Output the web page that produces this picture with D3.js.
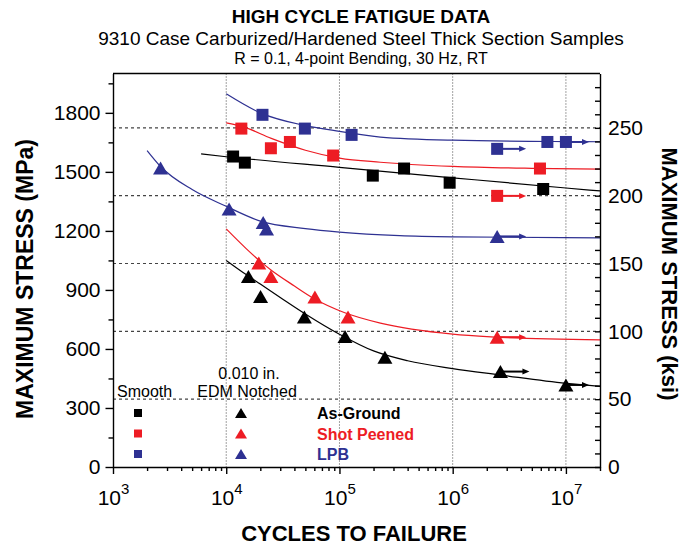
<!DOCTYPE html>
<html>
<head>
<meta charset="utf-8">
<script src="https://cdn.jsdelivr.net/npm/d3@7/dist/d3.min.js"></script>
<style>
  body { margin: 0; background: #fff; }
  svg { display: block; font-family: "Liberation Sans", Arial, Helvetica, sans-serif; }
</style>
</head>
<body>
<svg id="chart" width="694" height="546"></svg>
<script>
// data: [cycles, max stress (MPa), runout?]
var smoothGround = [[1.15e4,1578],[1.46e4,1547],[1.97e5,1481],[3.72e5,1517],[9.4e5,1445],[6.3e6,1413]];
var smoothPeened = [[1.36e4,1720],[2.48e4,1620],[3.65e4,1652],[8.8e4,1583],[2.47e6,1378,1],[5.9e6,1517]];
var smoothLPB    = [[2.09e4,1790],[4.95e4,1720],[1.28e5,1688],[2.47e6,1617,1],[6.86e6,1652],[1e7,1652,1]];
var notchGround  = [[1.57e4,968],[2.01e4,867],[4.9e4,762],[1.12e5,663],[2.52e5,558],[2.64e6,485,1],[1e7,417,1]];
var notchPeened  = [[1.94e4,1037],[2.48e4,968],[6.07e4,864],[1.19e5,762],[2.47e6,660,1]];
var notchLPB     = [[2.63e3,1520],[1.06e4,1311],[2.12e4,1243],[2.27e4,1210],[2.47e6,1172,1]];

// fitted curves
var fitSmoothGround = [[6e3,1591],[1e4,1577],[1e5,1523],[1e6,1470],[1e7,1418],[2e7,1403]];
var fitSmoothPeened = [[1e4,1749],[1.4e4,1730],[2.5e4,1670],[5e4,1610],[1e5,1570],[2.3e5,1549],[1e6,1528],[5e6,1518],[2e7,1514]];
var fitSmoothLPB    = [[1e4,1897],[2e4,1800],[5e4,1735],[1e5,1706],[2.3e5,1677],[1e6,1661],[1e7,1654],[2e7,1653]];
var fitNotchGround  = [[1e4,1050],[1.5e4,978],[2e4,930],[3e4,862],[5e4,778],[1e5,675],[2e5,590],[4e5,540],[1e6,500],[2.6e6,468],[1e7,425],[2e7,410]];
var fitNotchPeened  = [[1e4,1210],[1.5e4,1110],[2e4,1045],[2.5e4,1000],[4e4,920],[6e4,855],[1.1e5,785],[2.3e5,731],[1e6,675],[2.5e6,660],[2e7,646]];
var fitNotchLPB     = [[2e3,1608],[2.6e3,1530],[5e3,1410],[1e4,1325],[2e4,1250],[5e4,1212],[1e5,1194],[3.4e5,1176],[1e6,1170],[2e7,1165]];

var treatments = ["As-Ground", "Shot Peened", "LPB"];
var treatColors = ["#000000", "#ed1c24", "#2e3192"];

var mpaTicks = [0, 300, 600, 900, 1200, 1500, 1800];
var ksiTicks = [0, 50, 100, 150, 200, 250];
var decades = [3, 4, 5, 6, 7];
var MPA_PER_KSI = 6.895;

var svg = d3.select("#chart");
// plot box (note: "top" is taken by window.top, so use other names)
var pLeft = 113, pRight = 600, pTop = 73.5, pBottom = 467;

var x = d3.scaleLog().domain([1e3, 2e7]).range([pLeft, pRight]);
var y = d3.scaleLinear().domain([0, 2000]).range([pBottom, pTop]);
var yk = d3.scaleLinear().domain([0, 2000 / MPA_PER_KSI]).range([pBottom, pTop]);

// grid: dashed at the ksi majors, dotted at the decades
svg.append("g").selectAll("line").data(ksiTicks.slice(1)).join("line")
  .attr("x1", pLeft).attr("x2", pRight)
  .attr("y1", d => yk(d)).attr("y2", d => yk(d))
  .attr("stroke", "#444").attr("stroke-width", 1.2).attr("stroke-dasharray", "3,3");
svg.append("g").selectAll("line").data(decades.slice(1)).join("line")
  .attr("x1", d => x(Math.pow(10, d))).attr("x2", d => x(Math.pow(10, d)))
  .attr("y1", pTop).attr("y2", pBottom)
  .attr("stroke", "#444").attr("stroke-width", 1).attr("stroke-dasharray", "1,2");

// fitted curves
var line = d3.line().curve(d3.curveMonotoneX).x(d => x(d[0])).y(d => y(d[1]));
var fits = [[fitSmoothGround, 0], [fitSmoothPeened, 1], [fitSmoothLPB, 2],
            [fitNotchGround, 0], [fitNotchPeened, 1], [fitNotchLPB, 2]];
svg.append("g").selectAll("path").data(fits).join("path")
  .attr("d", d => line(d[0]))
  .attr("fill", "none")
  .attr("stroke", d => treatColors[d[1]])
  .attr("stroke-width", 1.2);

function triPath(w, h) {
  return "M0," + (-h / 2) + "L" + (w / 2) + "," + (h / 2) + "L" + (-w / 2) + "," + (h / 2) + "Z";
}

var series = [
  { pts: smoothGround, c: 0, shape: "sq" },
  { pts: smoothPeened, c: 1, shape: "sq" },
  { pts: smoothLPB,    c: 2, shape: "sq" },
  { pts: notchGround,  c: 0, shape: "tri" },
  { pts: notchPeened,  c: 1, shape: "tri" },
  { pts: notchLPB,     c: 2, shape: "tri" }
];

// runout arrows under the markers
series.forEach(function (s) {
  var col = treatColors[s.c];
  var g = svg.append("g");
  s.pts.filter(d => d[2]).forEach(function (d) {
    var x0 = x(d[0]), y0 = y(d[1]);
    var tip = Math.min(x0 + 29, pRight - 11);
    g.append("line").attr("x1", x0).attr("x2", tip - 5).attr("y1", y0).attr("y2", y0)
      .attr("stroke", col).attr("stroke-width", 2);
    g.append("path").attr("d", "M" + tip + "," + y0 + "l-7,-3l0,6z").attr("fill", col);
  });
});

// markers
series.forEach(function (s) {
  var col = treatColors[s.c];
  var g = svg.append("g");
  if (s.shape === "sq") {
    g.selectAll("rect").data(s.pts).join("rect")
      .attr("x", d => x(d[0]) - 6).attr("y", d => y(d[1]) - 6)
      .attr("width", 12).attr("height", 12).attr("fill", col);
  } else {
    g.selectAll("path").data(s.pts).join("path")
      .attr("transform", d => "translate(" + x(d[0]) + "," + y(d[1]) + ")")
      .attr("d", triPath(15, 13)).attr("fill", col);
  }
});

// axes
var axisStyle = function (g) {
  g.attr("font-family", null).attr("font-size", 21);
  g.selectAll("path, line").attr("stroke", "#000").attr("stroke-width", 1.4);
  g.selectAll("text").attr("fill", "#000");
};

svg.append("g").attr("transform", "translate(" + pLeft + ",0)")
  .call(d3.axisLeft(y).tickValues(mpaTicks).tickSize(7.5).tickSizeOuter(0).tickPadding(5)
    .tickFormat(d3.format("d")))
  .call(axisStyle);
svg.append("g").attr("transform", "translate(" + pLeft + ",0)")
  .call(d3.axisLeft(y).tickValues(d3.range(150, 2000, 300)).tickSize(4.5).tickFormat(""))
  .call(axisStyle).call(g => g.select(".domain").remove());

svg.append("g").attr("transform", "translate(" + pRight + ",0)")
  .call(d3.axisRight(yk).tickValues(d3.range(0, 290, 10)).tickSize(-5).tickSizeOuter(0).tickPadding(8)
    .tickFormat(d => d % 50 === 0 ? d : ""))
  .call(axisStyle);

var gx = svg.append("g").attr("transform", "translate(0," + pBottom + ")")
  .call(d3.axisBottom(x).tickValues(decades.map(d => Math.pow(10, d))).tickSize(7).tickSizeOuter(0))
  .call(axisStyle);
gx.selectAll(".tick text").text(null).attr("dy", null).attr("y", 38)
  .each(function (d) {
    var t = d3.select(this);
    t.append("tspan").text("10");
    t.append("tspan").attr("dy", -11).attr("font-size", 15).text(Math.round(Math.log10(d)));
  });
var minorX = [];
decades.forEach(function (e) {
  for (var k = 2; k <= 9; k++) {
    var v = k * Math.pow(10, e);
    if (v <= 2e7) minorX.push(v);
  }
});
svg.append("g").attr("transform", "translate(0," + pBottom + ")")
  .call(d3.axisBottom(x).tickValues(minorX).tickSize(4).tickFormat(""))
  .call(axisStyle).call(g => g.select(".domain").remove());

// top frame
svg.append("line").attr("x1", pLeft).attr("x2", pRight).attr("y1", pTop).attr("y2", pTop)
  .attr("stroke", "#000").attr("stroke-width", 1.4);

// titles
svg.append("text").attr("x", 361).attr("y", 23).attr("text-anchor", "middle")
  .attr("font-size", 19).attr("font-weight", "bold").text("HIGH CYCLE FATIGUE DATA");
svg.append("text").attr("x", 361).attr("y", 45).attr("text-anchor", "middle")
  .attr("font-size", 19).text("9310 Case Carburized/Hardened Steel Thick Section Samples");
svg.append("text").attr("x", 361).attr("y", 63.5).attr("text-anchor", "middle")
  .attr("font-size", 16).text("R = 0.1, 4-point Bending, 30 Hz, RT");

svg.append("text").attr("x", 354).attr("y", 541).attr("text-anchor", "middle")
  .attr("font-size", 22).attr("font-weight", "bold").text("CYCLES TO FAILURE");
svg.append("text").attr("transform", "translate(33,279) rotate(-90)").attr("text-anchor", "middle")
  .attr("font-size", 23).attr("font-weight", "bold").text("MAXIMUM STRESS (MPa)");
svg.append("text").attr("transform", "translate(662,274) rotate(90)").attr("text-anchor", "middle")
  .attr("font-size", 22).attr("font-weight", "bold").text("MAXIMUM STRESS (ksi)");

// legend
var lg = svg.append("g");
lg.append("text").attr("x", 117).attr("y", 397).attr("font-size", 16).text("Smooth");
lg.append("text").attr("x", 249).attr("y", 379).attr("text-anchor", "middle").attr("font-size", 16).text("0.010 in.");
lg.append("text").attr("x", 247).attr("y", 397).attr("text-anchor", "middle").attr("font-size", 16).text("EDM Notched");
var rowY = [413, 433.5, 454];
treatments.forEach(function (name, i) {
  lg.append("rect").attr("x", 134).attr("y", rowY[i] - 4).attr("width", 8).attr("height", 8)
    .attr("fill", treatColors[i]);
  lg.append("path").attr("transform", "translate(241," + rowY[i] + ")")
    .attr("d", triPath(12, 10)).attr("fill", treatColors[i]);
  lg.append("text").attr("x", 317).attr("y", rowY[i] + 6).attr("font-size", 16)
    .attr("font-weight", "bold").attr("fill", treatColors[i]).text(name);
});
</script>
</body>
</html>
